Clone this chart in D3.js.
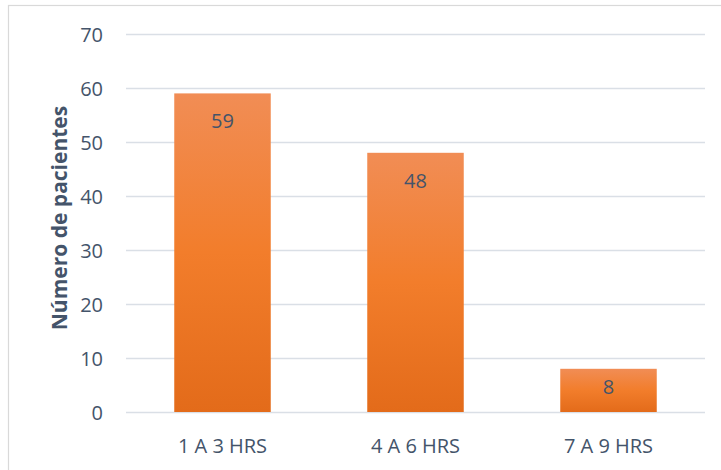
<!DOCTYPE html>
<html>
<head>
<meta charset="utf-8">
<script src="https://cdn.jsdelivr.net/npm/d3@7"></script>
<style>
  html, body { margin: 0; padding: 0; background: #fff; }
  svg { display: block; }
  text { font-family: "Open Sans", "Noto Sans", sans-serif; fill: #44546A; }
</style>
</head>
<body>
<svg id="chart" width="721" height="470"></svg>
<script>
// Patients grouped by hours
const categories = ["1 A 3 HRS", "4 A 6 HRS", "7 A 9 HRS"];
const patients = [59, 48, 8];
const yTicks = [0, 10, 20, 30, 40, 50, 60, 70];
const yTitle = "Número de pacientes";

const svg = d3.select("#chart");

// chart frame
svg.append("rect")
  .attr("x", 8.5).attr("y", 5.5)
  .attr("width", 730).attr("height", 480)
  .attr("fill", "#fff")
  .attr("stroke", "#D9D9D9").attr("stroke-width", 1.2);

const x = d3.scaleBand()
  .domain(categories)
  .range([126, 705])
  .paddingInner(0.5)
  .paddingOuter(0.25);

const y = d3.scaleLinear().domain([0, 70]).range([412, 34]);

// bar gradient
const defs = svg.append("defs");
const grad = defs.append("linearGradient")
  .attr("id", "barGrad")
  .attr("x1", 0).attr("y1", 0).attr("x2", 0).attr("y2", 1);
grad.append("stop").attr("offset", "0%").attr("stop-color", "#F18D55");
grad.append("stop").attr("offset", "50%").attr("stop-color", "#F27D2B");
grad.append("stop").attr("offset", "100%").attr("stop-color", "#E36B1A");

// gridlines
const yAxis = d3.axisLeft(y)
  .tickValues(yTicks)
  .tickSize(-(705 - 126))
  .tickPadding(23);

const gy = svg.append("g")
  .attr("transform", "translate(126,0)")
  .call(yAxis);
gy.select(".domain").remove();
gy.selectAll(".tick line")
  .attr("stroke", "#DADFE6")
  .attr("stroke-width", 1.4);
gy.selectAll(".tick text")
  .attr("fill", "#44546A")
  .style("font-size", "20px")
  .attr("dy", "0.36em");

// bars
svg.append("g").selectAll("rect")
  .data(patients)
  .join("rect")
  .attr("x", (d, i) => x(categories[i]))
  .attr("y", d => y(d))
  .attr("width", x.bandwidth())
  .attr("height", d => y(0) - y(d))
  .attr("fill", "url(#barGrad)");

// value labels, inside the top of each bar (centred when the bar is short)
svg.append("g").selectAll("text")
  .data(patients)
  .join("text")
  .attr("x", (d, i) => x(categories[i]) + x.bandwidth() / 2)
  .attr("y", d => {
    const h = y(0) - y(d);
    return y(d) + Math.min(28, h / 2 - 3) + 7;
  })
  .attr("text-anchor", "middle")
  .style("font-size", "20px")
  .text(d => d);

// category axis
const xAxis = d3.axisBottom(x).tickSize(0).tickPadding(0);
const gx = svg.append("g")
  .attr("transform", "translate(0,412)")
  .call(xAxis);
gx.select(".domain").remove();
gx.selectAll(".tick text")
  .attr("fill", "#44546A")
  .attr("y", 41)
  .attr("dy", 0)
  .style("font-size", "20px");

// y-axis title
svg.append("text")
  .attr("transform", "translate(67,218) rotate(-90)")
  .attr("text-anchor", "middle")
  .style("font-size", "21px")
  .style("font-weight", "bold")
  .text(yTitle);
</script>
</body>
</html>
